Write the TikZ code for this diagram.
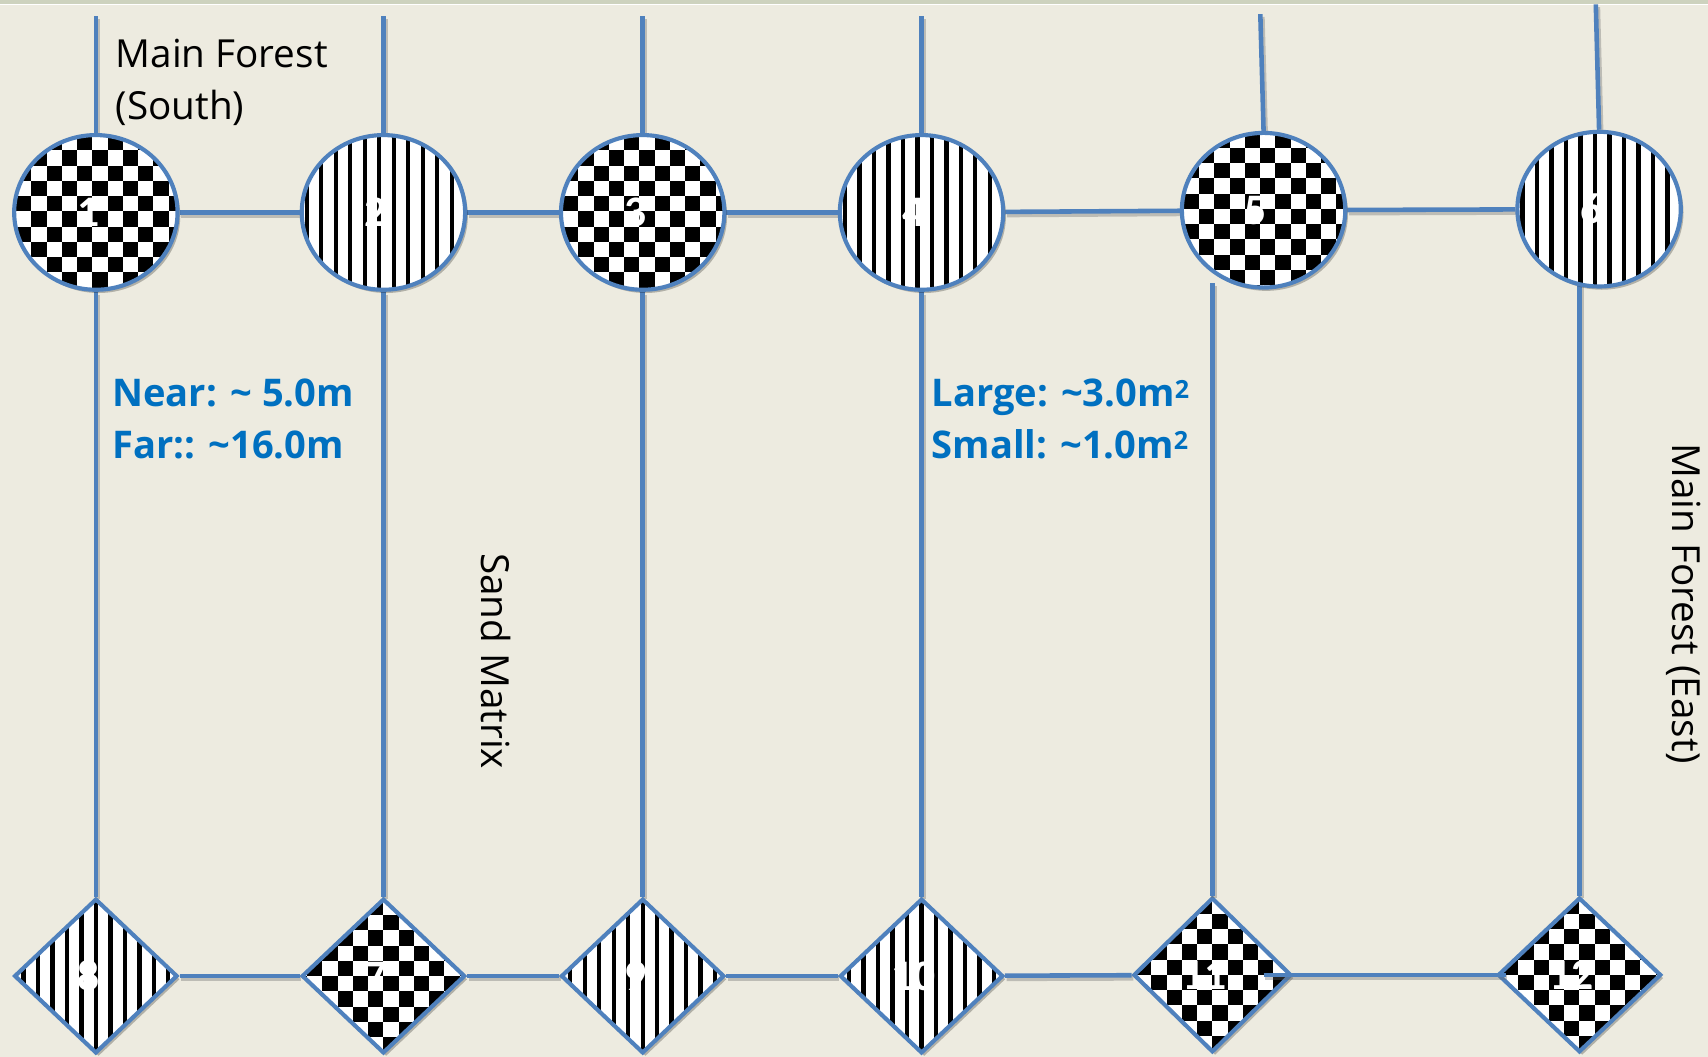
\documentclass[tikz,border=0pt]{standalone}
\usepackage{fontspec}
\setmainfont{Open Sans}
\newfontfamily\notefont{Open Sans}
\newfontfamily\plotfont{Carlito}
\usetikzlibrary{shapes.geometric}
\pgfdeclarelayer{paper}
\pgfdeclarelayer{wires}
\pgfsetlayers{paper,wires,main}

\definecolor{papercol}{HTML}{EDEBE0}
\definecolor{topband}{HTML}{CDD2BE}
\definecolor{edge}{HTML}{4F81BD}
\definecolor{note}{HTML}{0070C0}

% checkerboard filling, centred on the shape
\newcommand\checkerfill{%
  \begin{scope}[shift={(path picture bounding box.center)}]
    \fill[white] (-100,-100) rectangle (100,100);
    \foreach \i in {-7,...,6}{%
      \foreach \j in {-7,...,6}{%
        \pgfmathtruncatemacro\cellpar{mod(\i+\j+40,2)}%
        \ifnum\cellpar=0 \fill[black] (\i*14,\j*14) rectangle ++(14,14);\fi
      }}
  \end{scope}}

% thin vertical black stripes on white
\newcommand\stripefill{%
  \begin{scope}[shift={(path picture bounding box.center)}]
    \fill[white] (-100,-100) rectangle (100,100);
    \foreach \i in {-8,...,8}{%
      \fill[black] (\i*13.3-2,-100) rectangle ++(4,200);}
  \end{scope}}

\begin{document}
\begin{tikzpicture}[x=1pt, y=-1pt,
  plot/.style={draw=edge, line width=3.8pt, inner sep=0pt, text=white,
    font=\plotfont\bfseries\fontsize{40}{40}\selectfont,
    preaction={fill=black, opacity=0.25,
      transform canvas={shift={(2.5pt,-3pt)}}}},
  roundplot/.style={plot, ellipse, minimum width=150pt, minimum height=142pt},
  rhombplot/.style={plot, diamond, minimum width=150pt, minimum height=142pt},
  checker/.style={path picture={\checkerfill}},
  stripes/.style={path picture={\stripefill}},
  wire/.style={draw=edge, line width=4.2pt,
    preaction={draw=black!60, opacity=0.35, line width=5pt,
      transform canvas={shift={(1.5pt,-2.5pt)}}}},
  sidenote/.style={font=\fontsize{35.5}{47}\selectfont, inner sep=0pt},
  areanote/.style={font=\notefont\bfseries\fontsize{35}{47}\selectfont,
    text=note, inner sep=0pt, anchor=north west, align=left}
]
\useasboundingbox (0,0) rectangle (1568,970);
\begin{pgfonlayer}{paper}
  \fill[papercol] (0,0) rectangle (1568,970);
  \fill[topband] (0,0) rectangle (1568,3.5);
  \fill[white] (0,3.5) rectangle (1568,4.6);
\end{pgfonlayer}

% upper row of round plots
\node[roundplot, checker] (c1) at (88,195)   {1\hspace*{14pt}};
\node[roundplot, stripes] (c2) at (352,195)  {2\hspace*{14pt}};
\node[roundplot, checker] (c3) at (590,195)  {3\hspace*{14pt}};
\node[roundplot, stripes] (c4) at (846,195)  {4\hspace*{14pt}};
\node[roundplot, checker] (c5) at (1160,193) {5\hspace*{14pt}};
\node[roundplot, stripes] (c6) at (1468,192) {6\hspace*{14pt}};

% lower row of square plots
\node[rhombplot, stripes] (d8)  at (88,896)   {8\hspace*{14pt}};
\node[rhombplot, checker] (d7)  at (352,896)  {7\hspace*{14pt}};
\node[rhombplot, stripes] (d9)  at (590,896)  {9\hspace*{14pt}};
\node[rhombplot, stripes] (d10) at (846,896)  {10\hspace*{14pt}};
\node[rhombplot, checker, minimum width=145pt] (d11) at (1113,895) {11\hspace*{14pt}};
\node[rhombplot, checker] (d12) at (1450,895) {12\hspace*{14pt}};

% free ends of the lines leaving the upper row
\coordinate (t1) at (88,15);
\coordinate (t2) at (352,15);
\coordinate (t3) at (590,15);
\coordinate (t4) at (846,15);
\coordinate (t5) at (1157,13);
\coordinate (t6) at (1465,4);

\begin{pgfonlayer}{wires}
  \draw[wire] (t1) -- (c1.north);
  \draw[wire] (t2) -- (c2.north);
  \draw[wire] (t3) -- (c3.north);
  \draw[wire] (t4) -- (c4.north);
  \draw[wire] (t5) -- (c5.north);
  \draw[wire] (t6) -- (c6.north);
  \draw[wire] (c1) -- (c2);
  \draw[wire] (c2) -- (c3);
  \draw[wire] (c3) -- (c4);
  \draw[wire] (c4) -- (c5);
  \draw[wire] (c5) -- (c6);
  \draw[wire] (c1) -- (d8);
  \draw[wire] (c2) -- (d7);
  \draw[wire] (c3) -- (d9);
  \draw[wire] (c4) -- (d10);
  \draw[wire] (d12.north) -- ++(0,-565);
  \draw[wire] (d8) -- (d7);
  \draw[wire] (d7) -- (d9);
  \draw[wire] (d9) -- (d10);
  \draw[wire] (d10) -- (d11);
\end{pgfonlayer}
% these two run over the shapes they start from
\draw[wire] (d11.north) -- ++(0,-562);
\draw[wire] ([xshift=47pt]d11.center) -- ([xshift=9pt]d12.west);

% labels
\node[sidenote, anchor=north west, align=left] (south) at (106,36) {Main Forest\\(South)};
\node[sidenote, rotate=-90] (sand) at (455,607) {Sand Matrix};
\node[sidenote, rotate=-90] (east) at (1546,554) {Main Forest (East)};
\node[areanote] (dist) at (103,348)
  {Near: \textasciitilde{} 5.0m\\Far:: \textasciitilde16.0m};
\node[areanote] (size) at (855,348)
  {Large: \textasciitilde3.0m\raisebox{8pt}{\fontsize{23}{23}\selectfont 2}\\
   Small: \textasciitilde1.0m\raisebox{8pt}{\fontsize{23}{23}\selectfont 2}};
\end{tikzpicture}
\end{document}
